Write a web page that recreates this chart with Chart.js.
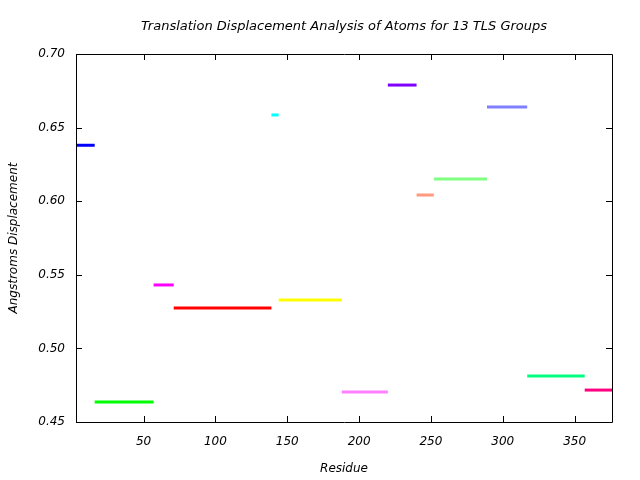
<!DOCTYPE html>
<html>
<head>
<meta charset="utf-8">
<script src="https://cdn.jsdelivr.net/npm/chart.js@4"></script>
<style>
  html, body { margin: 0; padding: 0; background: #fff; }
  canvas { display: block; }
</style>
</head>
<body>
<canvas id="grafico" width="640" height="480"></canvas>
<script>
// TLS group residue ranges and their translation displacement
var groupStarts = [3, 16, 57, 71, 139, 144, 188, 220, 240, 252, 289, 317, 357];
var groupEnds   = [16, 57, 71, 139, 144, 188, 220, 240, 252, 289, 317, 357, 376];
var groupValues = [0.638, 0.4636, 0.5431, 0.5274, 0.6586, 0.5329, 0.4704,
                   0.6789, 0.6042, 0.6151, 0.664, 0.4812, 0.4717];
var groupColors = ['#0000ff', '#00ff00', '#ff00ff', '#ff0000', '#00ffff', '#ffff00', '#ff80ff',
                   '#8000ff', '#ff9980', '#80ff80', '#8080ff', '#00ff80', '#ff0080'];

var xTicks = [50, 100, 150, 200, 250, 300, 350];
var yTicks = [0.45, 0.50, 0.55, 0.60, 0.65, 0.70];
var titulo = 'Translation Displacement Analysis of Atoms for 13 TLS Groups';

var fuente = { family: '"DejaVu Sans", Verdana, sans-serif', size: 12, style: 'italic', weight: 'normal' };

var datasets = groupValues.map(function(v, i) {
    return {
        label: 'Group ' + (i + 1),
        data: [{ x: groupStarts[i], y: v }, { x: groupEnds[i], y: v }],
        borderColor: groupColors[i],
        borderWidth: 3,
        pointRadius: 0,
        borderCapStyle: 'butt',
        fill: false
    };
});

// gnuplot-like border with inward ticks on all four sides, title centred on the plot
var bordeGnuplot = {
    id: 'bordeGnuplot',
    afterDraw: function(chart) {
        var ctx = chart.ctx;
        var a = chart.chartArea;
        var sx = chart.scales.x, sy = chart.scales.y;
        ctx.save();
        ctx.strokeStyle = '#000';
        ctx.lineWidth = 1;
        ctx.beginPath();
        ctx.rect(Math.round(a.left) + 0.5, Math.round(a.top) + 0.5,
                 Math.round(a.right - a.left), Math.round(a.bottom - a.top));
        xTicks.forEach(function(t) {
            var px = Math.round(sx.getPixelForValue(t)) + 0.5;
            ctx.moveTo(px, a.bottom); ctx.lineTo(px, a.bottom - 6);
            ctx.moveTo(px, a.top); ctx.lineTo(px, a.top + 6);
        });
        yTicks.forEach(function(t) {
            var py = Math.round(sy.getPixelForValue(t)) + 0.5;
            ctx.moveTo(a.left, py); ctx.lineTo(a.left + 6, py);
            ctx.moveTo(a.right, py); ctx.lineTo(a.right - 6, py);
        });
        ctx.stroke();

        ctx.fillStyle = '#000';
        ctx.font = 'italic 13px "DejaVu Sans", Verdana, sans-serif';
        ctx.textAlign = 'center';
        ctx.textBaseline = 'middle';
        ctx.fillText(titulo, (a.left + a.right) / 2, 27);
        ctx.restore();
    }
};

var grafico = new Chart(document.getElementById('grafico').getContext('2d'), {
    type: 'line',
    data: { datasets: datasets },
    options: {
        responsive: false,
        animation: false,
        layout: { padding: { left: 0, right: 28, top: 54, bottom: 0 } },
        plugins: {
            legend: { display: false },
            tooltip: { enabled: false },
            title: { display: false }
        },
        scales: {
            x: {
                type: 'linear',
                min: 3,
                max: 376,
                grid: { display: false, drawTicks: false },
                border: { display: false },
                afterBuildTicks: function(scale) {
                    scale.ticks = xTicks.map(function(v) { return { value: v }; });
                },
                afterFit: function(scale) { scale.height = 58; },
                ticks: { color: '#000', font: fuente, padding: 13, maxRotation: 0 },
                title: {
                    display: true,
                    text: 'Residue',
                    color: '#000',
                    font: fuente,
                    padding: { top: 4, bottom: 4 }
                }
            },
            y: {
                type: 'linear',
                min: 0.45,
                max: 0.70,
                grid: { display: false, drawTicks: false },
                border: { display: false },
                afterBuildTicks: function(scale) {
                    scale.ticks = yTicks.map(function(v) { return { value: v }; });
                },
                afterFit: function(scale) { scale.width = 76; },
                ticks: {
                    color: '#000',
                    font: fuente,
                    padding: 11,
                    callback: function(v) { return v.toFixed(2); }
                },
                title: {
                    display: true,
                    text: 'Angstroms Displacement',
                    color: '#000',
                    font: fuente,
                    padding: { top: 7, bottom: 4 }
                }
            }
        }
    },
    plugins: [bordeGnuplot]
});
</script>
</body>
</html>
